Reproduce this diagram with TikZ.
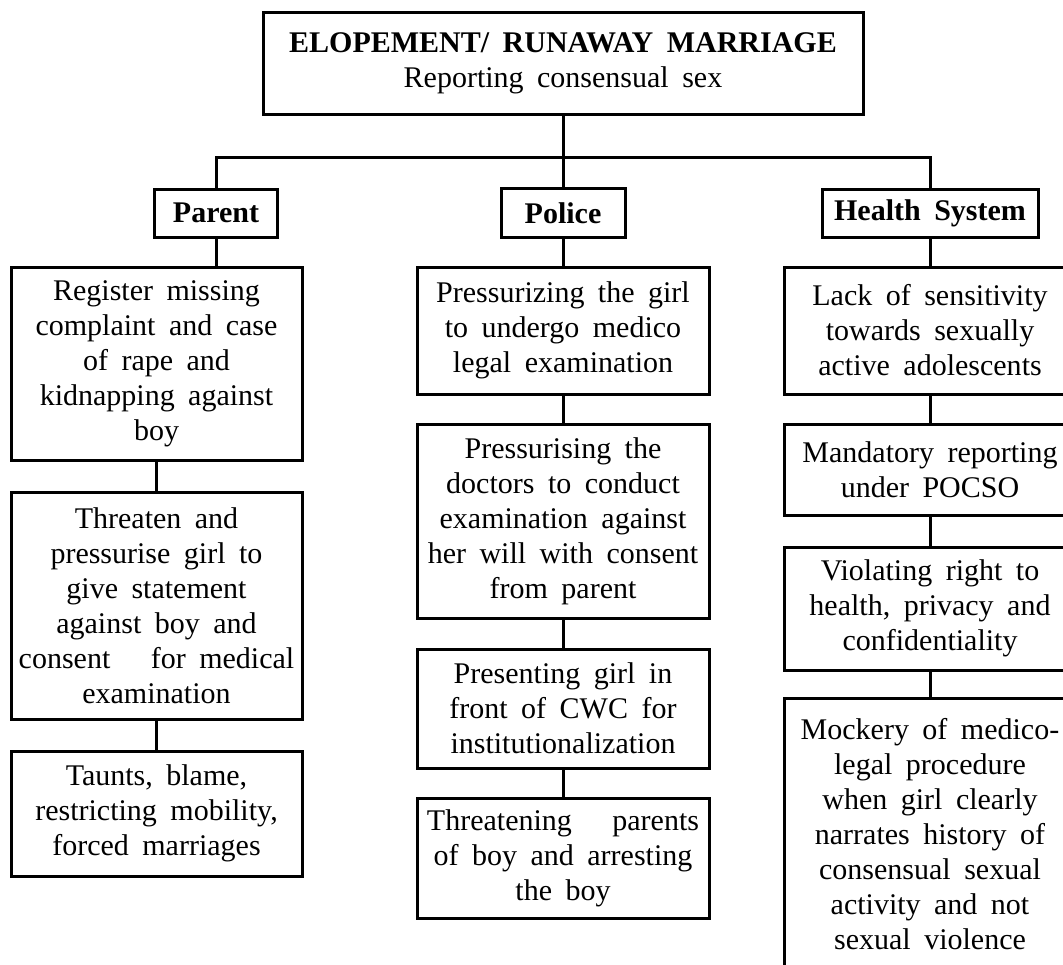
\documentclass[tikz,border=0pt]{standalone}
\usepackage{fontspec}
\setmainfont{Liberation Serif}
\newcommand\boxfont{\fontsize{15}{17.5}\selectfont\spaceskip=0.45em\relax}
\tikzset{
  bx/.style={draw, line width=1.5pt, align=center, inner sep=0pt, font=\boxfont},
  conn/.style={line width=1.5pt},
}
\begin{document}
\begin{tikzpicture}[x=0.5pt,y=-0.5pt]
\useasboundingbox (0,0) rectangle (1063,964);
\fill[white] (0,0) rectangle (1063,964);
\clip (0,0) rectangle (1063,964);
% top
\node[bx, minimum width=300pt, minimum height=51pt] (top) at (563,63)
  {{\bfseries ELOPEMENT/ RUNAWAY MARRIAGE}\\Reporting consensual sex};
% headers
\node[bx, font=\boxfont\bfseries, minimum width=61.5pt, minimum height=24pt] (parent) at (216,213) {Parent};
\node[bx, font=\boxfont\bfseries, minimum width=62pt, minimum height=24.5pt] (police) at (563,213) {Police};
\node[bx, font=\boxfont\bfseries, minimum width=108pt, minimum height=24pt] (health) at (930,213) {Health System};
% left column
\node[bx, minimum width=145.5pt, minimum height=96.5pt] (l1) at (156.5,363.5)
  {Register missing\\complaint and case\\of rape and\\kidnapping against\\boy};
\node[bx, minimum width=145.5pt, minimum height=113.5pt] (l2) at (156.5,605.5)
  {Threaten and\\pressurise girl to\\give statement\\against boy and\\consent\ \ \ for medical\\examination};
\node[bx, minimum width=145.5pt, minimum height=62.5pt] (l3) at (156.5,813.5)
  {Taunts, blame,\\restricting mobility,\\forced marriages};
% middle column
\node[bx, minimum width=146pt, minimum height=63.5pt] (m1) at (563,330.5)
  {Pressurizing the girl\\to undergo medico\\legal examination};
\node[bx, minimum width=146pt, minimum height=97pt] (m2) at (563,521)
  {Pressurising the\\doctors to conduct\\examination against\\her will with consent\\from parent};
\node[bx, minimum width=146pt, minimum height=59.5pt] (m3) at (563,708.5)
  {Presenting girl in\\front of CWC for\\institutionalization};
\node[bx, minimum width=146pt, minimum height=60pt] (m4) at (563,858)
  {Threatening\ \ \ parents\\of boy and arresting\\the boy};
% right column
\node[bx, minimum width=146pt, minimum height=63.5pt] (r1) at (930,330.5)
  {Lack of sensitivity\\towards sexually\\active adolescents};
\node[bx, minimum width=146pt, minimum height=45.5pt] (r2) at (930,469.5)
  {Mandatory reporting\\under POCSO};
\node[bx, minimum width=146pt, minimum height=61.5pt] (r3) at (930,608.5)
  {Violating right to\\health, privacy and\\confidentiality};
\node[bx, minimum width=146pt, minimum height=136pt] (r4) at (930,834)
  {Mockery of medico-\\legal procedure\\when girl clearly\\narrates history of\\consensual sexual\\activity and not\\sexual violence};
% connectors
\coordinate (bar) at (563,157);
\draw[conn] (top.south) -- (police.north);
\draw[conn] (parent.north) |- (bar) -| (health.north);
\draw[conn] (parent.south) -- (parent.south |- l1.north);
\draw[conn] (police.south) -- (m1.north);
\draw[conn] (health.south) -- (r1.north);
\draw[conn] (l1.south) -- (l2.north);
\draw[conn] (l2.south) -- (l3.north);
\draw[conn] (m1.south) -- (m2.north);
\draw[conn] (m2.south) -- (m3.north);
\draw[conn] (m3.south) -- (m4.north);
\draw[conn] (r1.south) -- (r2.north);
\draw[conn] (r2.south) -- (r3.north);
\draw[conn] (r3.south) -- (r4.north);
\end{tikzpicture}
\end{document}
